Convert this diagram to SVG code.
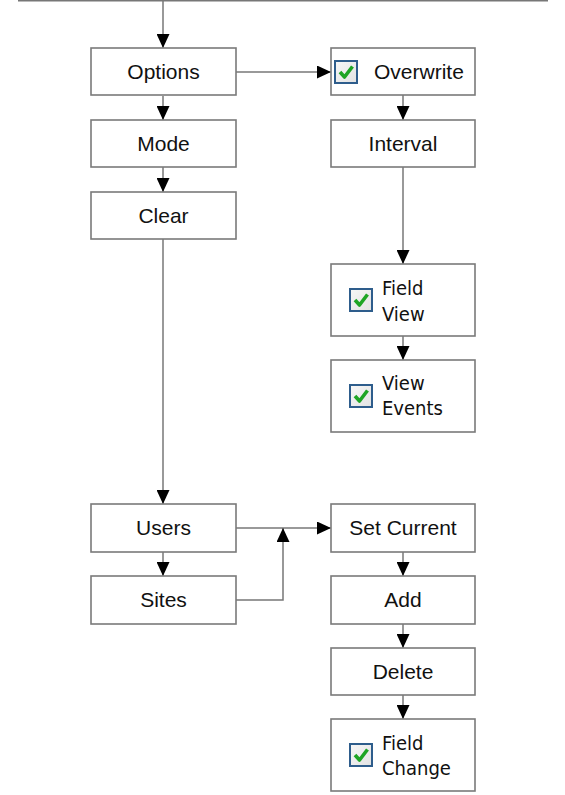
<svg xmlns="http://www.w3.org/2000/svg" width="565" height="795" viewBox="0 0 565 795">
<style>
.box{fill:#fff;stroke:#7a7a7a;stroke-width:1.6}
.t{font-family:"Liberation Sans",Arial,sans-serif;font-size:21px;fill:#111;text-anchor:middle}
.ts{font-family:"Liberation Sans",Arial,sans-serif;font-size:21px;fill:#111}
.tc{font-family:"DejaVu Sans Condensed","DejaVu Sans",sans-serif;font-size:20px;fill:#111}
.c{fill:none;stroke:#777;stroke-width:1.5}
</style>
<defs>
<marker id="ah" markerUnits="userSpaceOnUse" viewBox="0 0 14 13" refX="14" refY="6.5" markerWidth="14" markerHeight="13" orient="auto">
<path d="M0,0 L14,6.5 L0,13 z" fill="#000"/>
</marker>
<linearGradient id="cbg" x1="0" y1="0" x2="1" y2="1">
<stop offset="0" stop-color="#f7f7f7"/>
<stop offset="1" stop-color="#e2e2e2"/>
</linearGradient>
<g id="cb">
<rect x="1" y="1" width="22" height="22" fill="url(#cbg)" stroke="#2e5d8c" stroke-width="2"/>
<polyline points="6,12 10.5,17 18.5,6.5" fill="none" stroke="#1ea524" stroke-width="3.6" stroke-linejoin="round"/>
</g>
</defs>

<g id="connectors">
<line class="c" x1="18" y1="0.75" x2="548" y2="0.75"/>
<line class="c" x1="163" y1="0" x2="163" y2="48" marker-end="url(#ah)"/>
<line class="c" x1="163" y1="96" x2="163" y2="120" marker-end="url(#ah)"/>
<line class="c" x1="163" y1="167" x2="163" y2="192" marker-end="url(#ah)"/>
<line class="c" x1="163" y1="239" x2="163" y2="504" marker-end="url(#ah)"/>
<line class="c" x1="163" y1="552" x2="163" y2="576" marker-end="url(#ah)"/>
<line class="c" x1="236" y1="72" x2="331" y2="72" marker-end="url(#ah)"/>
<line class="c" x1="403" y1="95" x2="403" y2="120" marker-end="url(#ah)"/>
<line class="c" x1="403" y1="167" x2="403" y2="264" marker-end="url(#ah)"/>
<line class="c" x1="403" y1="336" x2="403" y2="360" marker-end="url(#ah)"/>
<line class="c" x1="236" y1="528" x2="331" y2="528" marker-end="url(#ah)"/>
<polyline class="c" points="236,600 283,600 283,528" marker-end="url(#ah)"/>
<line class="c" x1="403" y1="552" x2="403" y2="576" marker-end="url(#ah)"/>
<line class="c" x1="403" y1="624" x2="403" y2="648" marker-end="url(#ah)"/>
<line class="c" x1="403" y1="695" x2="403" y2="719" marker-end="url(#ah)"/>
</g>

<g id="options">
<rect class="box" x="91" y="48" width="145" height="47"/>
<text class="t" x="163.5" y="79">Options</text>
</g>
<g id="mode">
<rect class="box" x="91" y="120" width="145" height="47"/>
<text class="t" x="163.5" y="151">Mode</text>
</g>
<g id="clear">
<rect class="box" x="91" y="192" width="145" height="47"/>
<text class="t" x="163.5" y="223">Clear</text>
</g>
<g id="overwrite">
<rect class="box" x="331" y="48" width="144" height="47"/>
<use href="#cb" x="334" y="60"/>
<text class="ts" x="374" y="79">Overwrite</text>
</g>
<g id="interval">
<rect class="box" x="331" y="120" width="144" height="47"/>
<text class="t" x="403" y="151">Interval</text>
</g>
<g id="field-view">
<rect class="box" x="331" y="264" width="144" height="72"/>
<use href="#cb" x="349" y="288"/>
<text class="tc" x="382" y="295">Field</text>
<text class="tc" x="382" y="321">View</text>
</g>
<g id="view-events">
<rect class="box" x="331" y="360" width="144" height="72"/>
<use href="#cb" x="349" y="384"/>
<text class="tc" x="382" y="390">View</text>
<text class="tc" x="382" y="415">Events</text>
</g>
<g id="users">
<rect class="box" x="91" y="504" width="145" height="48"/>
<text class="t" x="163.5" y="535">Users</text>
</g>
<g id="sites">
<rect class="box" x="91" y="576" width="145" height="48"/>
<text class="t" x="163.5" y="607">Sites</text>
</g>
<g id="set-current">
<rect class="box" x="331" y="504" width="144" height="48"/>
<text class="t" x="403" y="535">Set Current</text>
</g>
<g id="add">
<rect class="box" x="331" y="576" width="144" height="48"/>
<text class="t" x="403" y="607">Add</text>
</g>
<g id="delete">
<rect class="box" x="331" y="648" width="144" height="47"/>
<text class="t" x="403" y="679">Delete</text>
</g>
<g id="field-change">
<rect class="box" x="331" y="719" width="144" height="72"/>
<use href="#cb" x="349" y="743"/>
<text class="tc" x="382" y="750">Field</text>
<text class="tc" x="382" y="775">Change</text>
</g>
</svg>
